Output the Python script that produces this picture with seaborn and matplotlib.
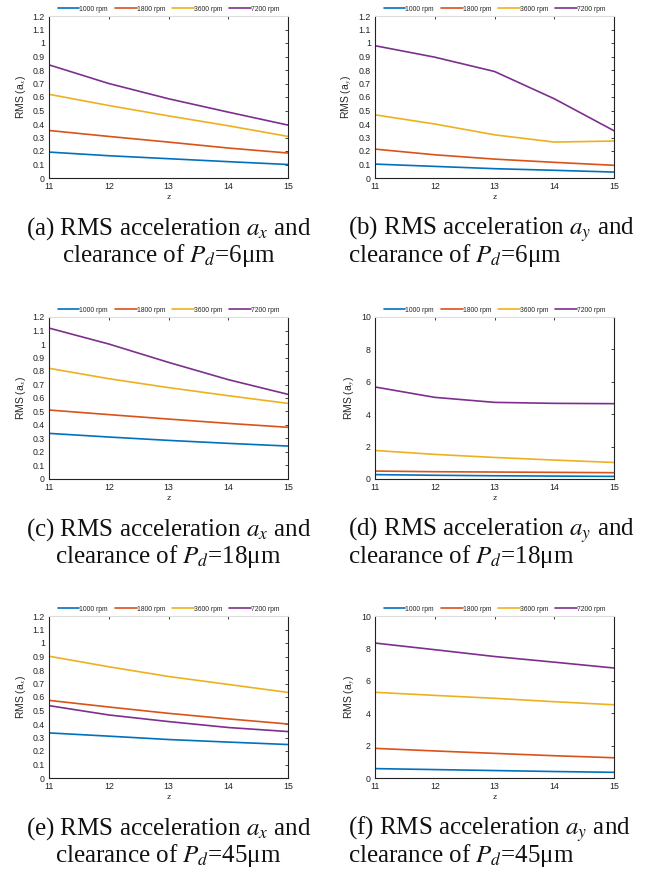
import pandas as pd
import seaborn as sns
import matplotlib.pyplot as plt
from matplotlib.ticker import FuncFormatter

z = [11, 12, 13, 14, 15]
speeds = ["1000 rpm", "1800 rpm", "3600 rpm", "7200 rpm"]

# (a) ax, Pd=6um
a_1000 = [0.192, 0.165, 0.143, 0.121, 0.100]
a_1800 = [0.352, 0.308, 0.266, 0.222, 0.185]
a_3600 = [0.620, 0.537, 0.460, 0.387, 0.308]
a_7200 = [0.838, 0.700, 0.587, 0.488, 0.392]
# (b) ay, Pd=6um
b_1000 = [0.103, 0.086, 0.069, 0.057, 0.044]
b_1800 = [0.214, 0.172, 0.140, 0.116, 0.094]
b_3600 = [0.468, 0.400, 0.320, 0.266, 0.274]
b_7200 = [0.980, 0.895, 0.789, 0.587, 0.350]
# (c) ax, Pd=18um
c_1000 = [0.338, 0.311, 0.286, 0.264, 0.244]
c_1800 = [0.511, 0.477, 0.444, 0.412, 0.383]
c_3600 = [0.820, 0.743, 0.677, 0.617, 0.560]
c_7200 = [1.118, 1.000, 0.864, 0.736, 0.627]
# (d) ay, Pd=18um
d_1000 = [0.27, 0.23, 0.20, 0.18, 0.16]
d_1800 = [0.49, 0.45, 0.43, 0.41, 0.39]
d_3600 = [1.76, 1.52, 1.33, 1.17, 1.02]
d_7200 = [5.68, 5.04, 4.73, 4.67, 4.65]
# (e) ax, Pd=45um
e_1000 = [0.334, 0.310, 0.285, 0.266, 0.248]
e_1800 = [0.575, 0.526, 0.479, 0.438, 0.400]
e_3600 = [0.902, 0.824, 0.752, 0.693, 0.634]
e_7200 = [0.536, 0.467, 0.418, 0.374, 0.344]
# (f) ay, Pd=45um
f_1000 = [0.58, 0.52, 0.46, 0.40, 0.35]
f_1800 = [1.83, 1.67, 1.52, 1.375, 1.25]
f_3600 = [5.29, 5.10, 4.92, 4.71, 4.52]
f_7200 = [8.33, 7.92, 7.50, 7.15, 6.79]

panels = [
    ("a", "x", "6", [a_1000, a_1800, a_3600, a_7200]),
    ("b", "y", "6", [b_1000, b_1800, b_3600, b_7200]),
    ("c", "x", "18", [c_1000, c_1800, c_3600, c_7200]),
    ("d", "y", "18", [d_1000, d_1800, d_3600, d_7200]),
    ("e", "x", "45", [e_1000, e_1800, e_3600, e_7200]),
    ("f", "y", "45", [f_1000, f_1800, f_3600, f_7200]),
]
ylims = {"a": 1.2, "b": 1.2, "c": 1.2, "d": 10, "e": 1.2, "f": 10}

colors = ["#0072BD", "#D95319", "#EDB120", "#7E2F8E"]

sns.set_theme(style="white")
plt.rcParams["font.family"] = ["Liberation Sans", "DejaVu Sans"]
plt.rcParams["mathtext.fontset"] = "stix"

fig = plt.figure(figsize=(6.52, 8.74), dpi=100)
W, H = 652, 874
ax_w, ax_h = 239, 162
tops = [16, 317, 616]
lefts = [49, 375]

def fmt(v, pos):
    s = f"{v:.1f}"
    return s[:-2] if s.endswith(".0") else s

for i, (tag, comp, pd_val, series) in enumerate(panels):
    row, col = divmod(i, 2)
    left = lefts[col]
    top = tops[row]
    ax = fig.add_axes([left / W, 1 - (top + ax_h) / H, ax_w / W, ax_h / H])
    df = pd.DataFrame({
        "z": z * 4,
        "rms": [v for s in series for v in s],
        "speed": [sp for sp in speeds for _ in z],
    })
    sns.lineplot(data=df, x="z", y="rms", hue="speed", palette=colors,
                 linewidth=1.2, ax=ax)
    ax.set_xlim(11, 15)
    ax.set_ylim(0, ylims[tag])
    ax.set_xticks(z)
    if ylims[tag] > 2:
        ax.set_yticks(range(0, 11, 2))
    else:
        ax.set_yticks([k / 10 for k in range(13)])
        ax.yaxis.set_major_formatter(FuncFormatter(fmt))
    ax.tick_params(direction="in", length=2, width=0.6, labelsize=6.3,
                   pad=3, top=True, right=True, colors="#222222")
    for name, sp in ax.spines.items():
        sp.set_linewidth(0.8)
        sp.set_color("#222222")
    ax.spines["top"].set_color("#dddddd")
    ax.set_xlabel("z", fontsize=6, labelpad=2)
    ax.set_ylabel(f"RMS (a$_{comp}$)", fontsize=7.5, labelpad=3)
    ax.legend(loc="lower center", bbox_to_anchor=(0.5, 1.0), ncol=4,
              frameon=False, fontsize=4.9, handlelength=3.2,
              handletextpad=0.0, columnspacing=1.0, borderaxespad=0.1)

    cap1 = f"({tag}) RMS acceleration $a_{comp}$ and"
    cap2 = f"clearance of $P_d$={pd_val}\u03bcm"
    base = top + ax_h
    if col == 0:
        cx, ha = (left + ax_w / 2) / W, "center"
    else:
        cx, ha = 348 / W, "left"
    for j, cap in enumerate([cap1, cap2]):
        fig.text(cx, 1 - (base + 57 + 27 * j) / H, cap, ha=ha, va="baseline",
                 fontsize=18, family="Liberation Serif", color="#111111")

fig.savefig("out.png", dpi=100)
